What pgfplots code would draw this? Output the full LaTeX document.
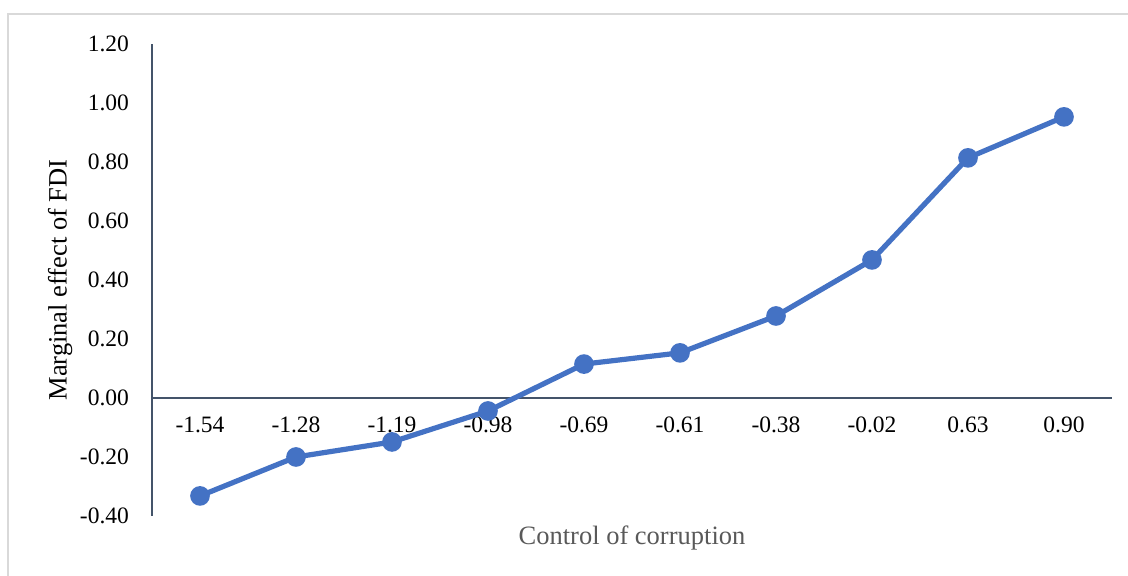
\documentclass[border=0pt]{standalone}
\usepackage{fontspec}
\setmainfont{Liberation Serif}
\usepackage{pgfplots}
\pgfplotsset{compat=1.18}
\definecolor{linecol}{HTML}{4472C4}
\definecolor{axcol}{HTML}{44546A}
\definecolor{labgray}{HTML}{595959}
\definecolor{framegray}{HTML}{D9D9D9}
\begin{document}
\begin{tikzpicture}
\useasboundingbox (0,0) rectangle (564pt,288pt);
\draw[framegray, line width=0.8pt] (4pt,0pt) -- (4pt,281pt) -- (564pt,281pt);
\begin{axis}[
  at={(76pt,30pt)}, anchor=south west,
  scale only axis, width=480pt, height=236pt,
  xmin=-0.5, xmax=9.5, ymin=-0.4, ymax=1.2,
  axis x line=middle, axis y line=left,
  axis line style={axcol, line width=1pt, -},
  xtick={0,...,9},
  xticklabels={-1.54,-1.28,-1.19,-0.98,-0.69,-0.61,-0.38,-0.02,0.63,0.90},
  ytick={-0.4,-0.2,0,0.2,0.4,0.6,0.8,1.0,1.2},
  yticklabels={-0.40,-0.20,0.00,0.20,0.40,0.60,0.80,1.00,1.20},
  major tick length=0pt,
  tick label style={font=\fontsize{11.75}{14}\selectfont, black},
  xticklabel style={anchor=north, yshift=-6pt},
  yticklabel style={anchor=east, xshift=-8pt},
  xlabel={Control of corruption},
  ylabel={Marginal effect of FDI},
  xlabel style={at={(axis description cs:0.5,0)}, anchor=center, yshift=-11pt, font=\fontsize{13.25}{16}\selectfont, labgray},
  ylabel style={at={(axis description cs:-0.0958,0.5)}, anchor=center, font=\fontsize{13.25}{16}\selectfont, black},
  clip=false,
]
\addplot[linecol, line width=2.6pt, mark=*, mark size=3.6pt, mark options={fill=linecol, draw=linecol}] coordinates {
(0,-0.332) (1,-0.200) (2,-0.149) (3,-0.044) (4,0.115) (5,0.153) (6,0.278) (7,0.468) (8,0.814) (9,0.953)
};
\end{axis}
\end{tikzpicture}
\end{document}
